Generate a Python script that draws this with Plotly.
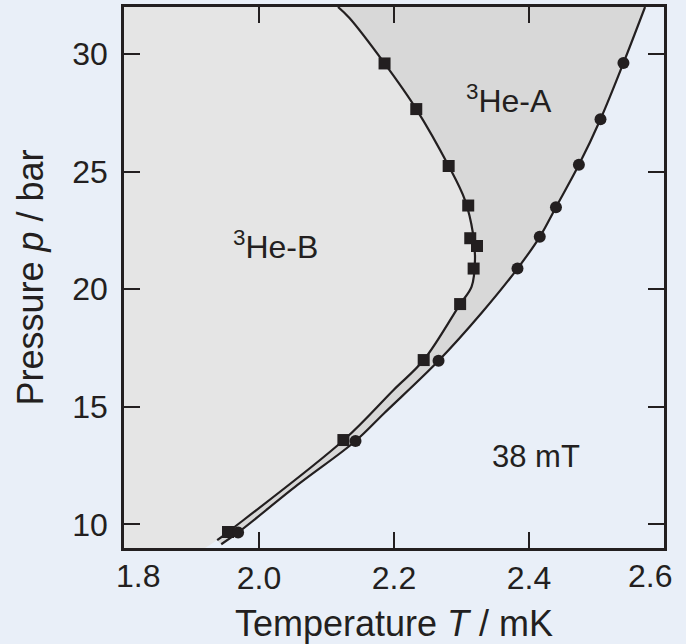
import plotly.graph_objects as go

# ---- data ----
# B-A transition (squares)
sq_T = [2.186, 2.233, 2.281, 2.310, 2.313, 2.323, 2.318, 2.298, 2.244, 2.125, 1.954]
sq_p = [29.60, 27.66, 25.24, 23.56, 22.17, 21.84, 20.88, 19.37, 16.99, 13.59, 9.68]
# A-normal transition (circles)
circ_T = [2.540, 2.506, 2.474, 2.440, 2.416, 2.383, 2.266, 2.143, 1.969]
circ_p = [29.62, 27.23, 25.29, 23.49, 22.23, 20.88, 16.96, 13.55, 9.66]

# fitted curves
ab_curve_T = [2.117, 2.134, 2.186, 2.233, 2.281, 2.305, 2.317, 2.320, 2.315, 2.298, 2.244, 2.199, 2.126, 1.954, 1.938]
ab_curve_p = [32.0, 31.53, 29.60, 27.66, 25.24, 23.80, 22.38, 21.25, 20.11, 19.37, 16.99, 15.71, 13.60, 9.68, 9.33]
a_curve_T = [2.572, 2.540, 2.506, 2.474, 2.440, 2.416, 2.383, 2.330, 2.266, 2.185, 2.143, 2.057, 1.969, 1.944]
a_curve_p = [32.0, 29.62, 27.23, 25.29, 23.49, 22.23, 20.88, 19.0, 16.96, 14.72, 13.55, 11.68, 9.66, 9.16]

# left/bottom boundary of the B region
edge_T = [1.8, 1.8, 1.92]
edge_p = [32.0, 9.0, 9.0]

x_ticks = [1.8, 2.0, 2.2, 2.4, 2.6]
x_ticktext = ["1.8", "2.0", "2.2", "2.4", "2.6"]
y_ticks = [10, 15, 20, 25, 30]
y_ticktext = ["10", "15", "20", "25", "30"]

INK = "#231f20"
B_FILL = "#e5e5e5"
A_FILL = "#d8d8d8"
BG = "#e9eff8"
FONT = "Liberation Sans, Arial, Helvetica, sans-serif"

fig = go.Figure()

# helper edge (invisible)
fig.add_trace(go.Scatter(x=edge_T, y=edge_p, mode="lines",
                         line=dict(width=0, color="rgba(0,0,0,0)"),
                         hoverinfo="skip", showlegend=False))
# B region fill
fig.add_trace(go.Scatter(x=ab_curve_T, y=ab_curve_p, mode="lines",
                         line=dict(width=0, color="rgba(0,0,0,0)", shape="spline"),
                         fill="tonextx", fillcolor=B_FILL,
                         hoverinfo="skip", showlegend=False))
# A region fill
fig.add_trace(go.Scatter(x=a_curve_T, y=a_curve_p, mode="lines",
                         line=dict(width=0, color="rgba(0,0,0,0)", shape="spline"),
                         fill="tonextx", fillcolor=A_FILL,
                         hoverinfo="skip", showlegend=False))
# curves
fig.add_trace(go.Scatter(x=ab_curve_T, y=ab_curve_p, mode="lines",
                         line=dict(width=2.2, color=INK, shape="spline"),
                         showlegend=False))
fig.add_trace(go.Scatter(x=a_curve_T, y=a_curve_p, mode="lines",
                         line=dict(width=2.2, color=INK, shape="spline"),
                         showlegend=False))
# markers
fig.add_trace(go.Scatter(x=sq_T, y=sq_p, mode="markers",
                         marker=dict(symbol="square", size=12, color=INK, line=dict(width=0)),
                         showlegend=False))
fig.add_trace(go.Scatter(x=circ_T, y=circ_p, mode="markers",
                         marker=dict(symbol="circle", size=12, color=INK, line=dict(width=0)),
                         showlegend=False))

ann_font = dict(family=FONT, size=32, color=INK)
fig.add_annotation(x=2.370, y=28.1, text="<sup>3</sup>He-A", showarrow=False,
                   font=ann_font, xanchor="center", yanchor="middle")
fig.add_annotation(x=2.024, y=21.9, text="<sup>3</sup>He-B", showarrow=False,
                   font=ann_font, xanchor="center", yanchor="middle")
fig.add_annotation(x=2.410, y=12.9, text="38 mT", showarrow=False,
                   font=dict(family=FONT, size=31, color=INK), xanchor="center", yanchor="middle")

# edge tick labels of the T axis sit inward of their ticks, as in the reference
tick_font = dict(family=FONT, size=32, color=INK)
fig.add_annotation(x=x_ticks[0], y=0, xref="x", yref="paper", text=x_ticktext[0],
                   showarrow=False, font=tick_font, xanchor="center", yanchor="top",
                   xshift=14, yshift=-8)
fig.add_annotation(x=x_ticks[-1], y=0, xref="x", yref="paper", text=x_ticktext[-1],
                   showarrow=False, font=tick_font, xanchor="center", yanchor="top",
                   xshift=-14, yshift=-8)
shown_ticktext = [""] + x_ticktext[1:-1] + [""]

axis_common = dict(showline=True, linewidth=2.5, linecolor=INK, mirror="ticks",
                   ticks="inside", ticklen=16, tickwidth=1.8, tickcolor=INK,
                   showgrid=False, zeroline=False,
                   tickfont=tick_font)

fig.update_xaxes(range=[1.7999, 2.6001], tickvals=x_ticks, ticktext=shown_ticktext,
                 ticklabelstandoff=0,
                 title=dict(text="Temperature <i>T</i> / mK",
                            font=dict(family=FONT, size=36, color=INK), standoff=22),
                 **axis_common)
fig.update_yaxes(range=[9, 32], tickvals=y_ticks, ticktext=y_ticktext,
                 ticklabelstandoff=7,
                 title=dict(text="Pressure <i>p</i> / bar",
                            font=dict(family=FONT, size=36, color=INK), standoff=18),
                 **axis_common)

fig.update_layout(width=686, height=644,
                  margin=dict(l=124, r=22, t=7, b=96, autoexpand=False),
                  paper_bgcolor=BG, plot_bgcolor=BG,
                  showlegend=False)

fig.write_html("out.html")
